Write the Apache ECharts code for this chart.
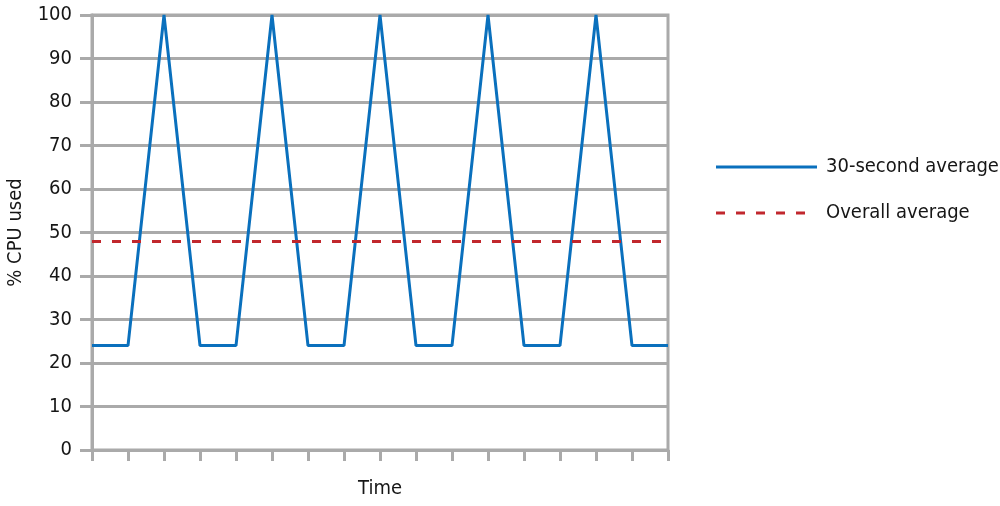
<!DOCTYPE html>
<html><head><meta charset="utf-8">
<script src="https://cdn.jsdelivr.net/npm/echarts@6/dist/echarts.min.js"></script>
<style>html,body{margin:0;padding:0;background:#fff}#c{width:1000px;height:506px}</style>
</head><body><div id="c"></div>
<script>
const categories = ['t0','t1','t2','t3','t4','t5','t6','t7','t8','t9','t10','t11','t12','t13','t14','t15','t16'];
const thirtySecondAverage = [24,24,100,24,24,100,24,24,100,24,24,100,24,24,100,24,24];
const overallAverage = 48;
const yTicks = [0,10,20,30,40,50,60,70,80,90,100];

const FONT = '"DejaVu Sans Condensed", "Liberation Sans Narrow", sans-serif';
const GRAY = '#aaaaaa';
const TXT = '#161616';
const BLUE = '#0a70bd';
const RED = '#c1272d';
const solidIcon = 'path://M0,0H101V3H0Z';
const dashedIcon = 'path://M0,0H9V3H0Z M20,0H29V3H20Z M40,0H49V3H40Z M60,0H69V3H60Z M80,0H89V3H80Z M101,1.5H101V1.5H101Z';
const chart = echarts.init(document.getElementById('c'));
chart.setOption({
  animation: false,
  grid: {left: 92, right: 332, top: 15, bottom: 56, outerBoundsMode: 'none', containLabel: false,
         show: true, borderColor: GRAY, borderWidth: 3, backgroundColor: 'transparent'},
  legend: {
    orient: 'vertical', left: 711, top: 152, itemWidth: 101, itemHeight: 3, itemGap: 26,
    textStyle: {fontFamily: FONT, fontSize: 20, color: TXT, padding: [0,0,0,4]},
    data: [
      {name: '30-second average', icon: solidIcon, itemStyle: {color: BLUE}},
      {name: 'Overall average', icon: dashedIcon, itemStyle: {color: RED}}
    ]
  },
  xAxis: {
    type: 'category', data: categories, boundaryGap: false,
    name: 'Time', nameLocation: 'middle', nameGap: 29,
    nameTextStyle: {fontFamily: FONT, fontSize: 20, color: TXT},
    axisLine: {lineStyle: {color: GRAY, width: 3}},
    axisTick: {show: true, length: 11, lineStyle: {color: GRAY, width: 3}, alignWithLabel: true},
    axisLabel: {show: false},
    splitLine: {show: false}
  },
  yAxis: {
    type: 'value', min: yTicks[0], max: yTicks[yTicks.length-1], interval: yTicks[1]-yTicks[0],
    name: '% CPU used', nameLocation: 'middle', nameGap: 66, nameRotate: 90,
    nameTextStyle: {fontFamily: FONT, fontSize: 20, color: TXT},
    axisLine: {show: true, lineStyle: {color: GRAY, width: 3}},
    axisTick: {show: true, length: 12, lineStyle: {color: GRAY, width: 3}},
    axisLabel: {fontFamily: FONT, fontSize: 20, color: TXT, margin: 20},
    splitLine: {lineStyle: {color: GRAY, width: 3}}
  },
  series: [
    {
      name: '30-second average', type: 'line', data: thirtySecondAverage,
      symbol: 'none', lineStyle: {color: BLUE, width: 3}, itemStyle: {color: BLUE}, z: 3
    },
    {
      name: 'Overall average', type: 'line', data: [],
      symbol: 'none', lineStyle: {color: RED, width: 3, type: [9, 11]}, itemStyle: {color: RED},
      markLine: {
        silent: true, symbol: 'none', label: {show: false},
        lineStyle: {color: RED, width: 3, type: [9, 11]},
        data: [{yAxis: overallAverage}]
      }, z: 2
    }
  ]
});
</script></body></html>
